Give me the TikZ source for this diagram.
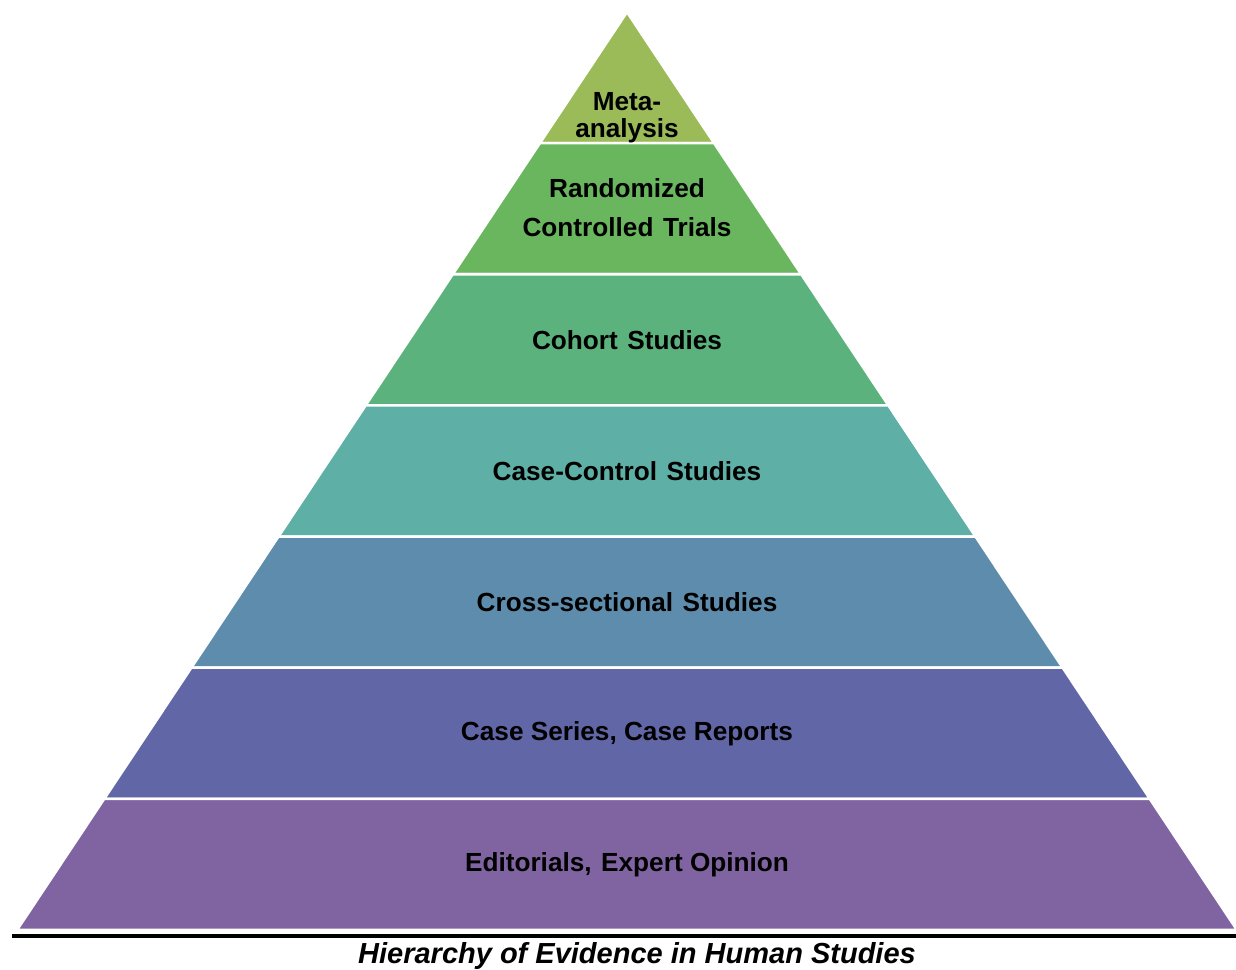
\documentclass[tikz,border=0pt]{standalone}
\usepackage{fontspec}
\setmainfont{Liberation Sans}
\definecolor{cMeta}{HTML}{9BBB59}
\definecolor{cRCT}{HTML}{6AB65E}
\definecolor{cCohort}{HTML}{5CB27C}
\definecolor{cCaseCtl}{HTML}{5EAFA6}
\definecolor{cCross}{HTML}{5E8CAC}
\definecolor{cSeries}{HTML}{6167A6}
\definecolor{cEditor}{HTML}{8064A2}
% slightly widened word gap used in some labels
\newcommand\wgap{\hspace{9.5pt}}
\tikzset{
  layerlabel/.style={align=center, text=black, inner sep=0pt,
    font=\fontsize{26.2}{27}\selectfont\bfseries},
  layer/.style={draw=white, line width=2.6pt, line join=round},
}
\begin{document}
\begin{tikzpicture}[x=1pt,y=1pt]
\useasboundingbox (0,0) rectangle (1236,969);
% pyramid: apex at (627,957), seven bands of equal height
\foreach \col [count=\n from 0] in {cMeta,cRCT,cCohort,cCaseCtl,cCross,cSeries,cEditor} {
  \pgfmathsetmacro\yt{957-\n*131.14}
  \pgfmathsetmacro\yb{\yt-131.14}
  \pgfmathsetmacro\wt{0.66449*\n*131.14}
  \pgfmathsetmacro\wb{0.66449*(\n+1)*131.14}
  \fill[\col, layer] (627-\wt,\yt) -- (627+\wt,\yt) -- (627+\wb,\yb) -- (627-\wb,\yb) -- cycle;
}
% band labels
\node[layerlabel] (meta) at (627,851) {Meta-\\analysis};
\node[layerlabel, font=\fontsize{26.2}{39}\selectfont\bfseries] (rct) at (627,761) {Randomized\\Controlled\wgap Trials};
\node[layerlabel] (cohort) at (627,629) {Cohort\wgap Studies};
\node[layerlabel] (casectl) at (627,498) {Case-Control\wgap Studies};
\node[layerlabel] (cross) at (627,367) {Cross-sectional\wgap Studies};
\node[layerlabel] (series) at (627,235) {Case Series, Case Reports};
\node[layerlabel] (editor) at (627,104) {Editorials,\wgap Expert Opinion};
% base rule and caption
\coordinate (ruleL) at (12,33);
\coordinate (ruleR) at (1236,33);
\draw[line width=3.5pt] (ruleL) -- (ruleR);
\node[anchor=base, inner sep=0pt, font=\fontsize{29}{30}\selectfont\bfseries\itshape] (caption) at (637,6) {Hierarchy of Evidence in Human Studies};
\end{tikzpicture}
\end{document}
